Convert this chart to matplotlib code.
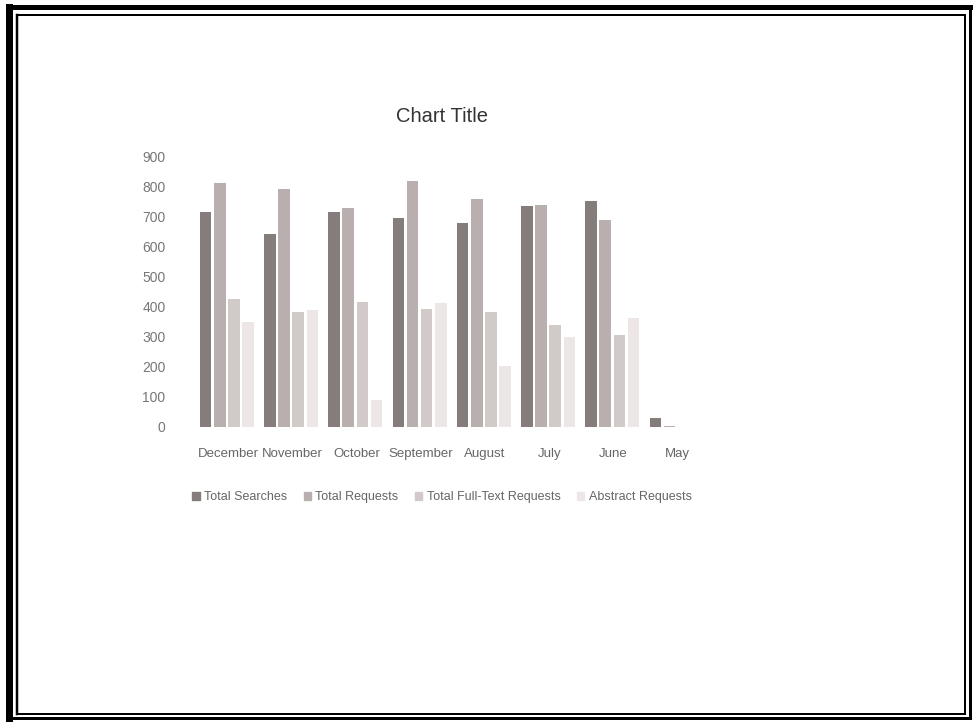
import matplotlib
matplotlib.use("Agg")
import matplotlib.pyplot as plt
from matplotlib.lines import Line2D
import numpy as np

months = ["December", "November", "October", "September", "August", "July", "June", "May"]
total_searches = [718, 642, 718, 696, 681, 737, 753, 29]
total_requests = [815, 793, 729, 820, 760, 740, 690, 2]
full_text_requests = [427, 382, 416, 392, 384, 340, 307, 1]
abstract_requests = [350, 390, 90, 412, 205, 300, 365, 1]
series_names = ["Total Searches", "Total Requests", "Total Full-Text Requests", "Abstract Requests"]
yticks = [0, 100, 200, 300, 400, 500, 600, 700, 800, 900]

colors = ["#857c7c", "#b9afaf", "#d2c9c9", "#ece6e6"]

plt.rcParams["font.family"] = ["Liberation Sans", "DejaVu Sans"]

W, H = 974, 722
fig = plt.figure(figsize=(W / 100, H / 100), dpi=100)
fig.patch.set_facecolor("white")

ax = fig.add_axes([196 / W, 1 - 427 / H, 514 / W, 270 / H])
x = np.arange(len(months))
data = [total_searches, total_requests, full_text_requests, abstract_requests]
bw = 0.18
step = 0.22
for i, (vals, c, nm) in enumerate(zip(data, colors, series_names)):
    ax.bar(x + (i - 1.5) * step - 0.02, vals, width=bw, color=c, label=nm)

ax.set_xlim(-0.5, len(months) - 0.5)
ax.set_ylim(0, 900)
ax.set_yticks(yticks)
ax.set_yticklabels([str(v) for v in yticks], color="#777777", fontsize=10)
ax.set_xticks(x)
ax.set_xticklabels(months, color="#666666", fontsize=9.5)
ax.tick_params(axis="y", length=0, pad=22)
ax.tick_params(axis="x", length=0, pad=15)
for s in ax.spines.values():
    s.set_visible(False)

fig.text(442 / W, 1 - 117 / H, "Chart Title", ha="center", va="center",
         fontsize=14.5, color="#333333")

handles = [plt.Rectangle((0, 0), 1, 1, color=c) for c in colors]
fig.legend(handles, series_names, loc="center", bbox_to_anchor=(442 / W, 1 - 497 / H),
           ncol=4, frameon=False, fontsize=9, handlelength=0.6, handleheight=0.6,
           handletextpad=0.35, columnspacing=1.3, labelcolor="#666666")

def fline(x0, y0, x1, y1, wpx):
    fig.add_artist(Line2D([x0 / W, x1 / W], [1 - y0 / H, 1 - y1 / H],
                          transform=fig.transFigure, color="black",
                          linewidth=wpx * 0.72, solid_capstyle="projecting"))

# outer frame
fline(9, 6.5, 969.5, 6.5, 5)
fline(9, 6.5, 9, 718, 7)
fline(969.5, 6.5, 969.5, 718, 3)
fline(9, 718, 969.5, 718, 3)
# inner frame
fline(17, 15, 965, 15, 2)
fline(17, 15, 17, 714, 2.5)
fline(965, 15, 965, 714, 2)
fline(17, 714, 965, 714, 2)

fig.savefig("out.png", dpi=100, facecolor="white")
